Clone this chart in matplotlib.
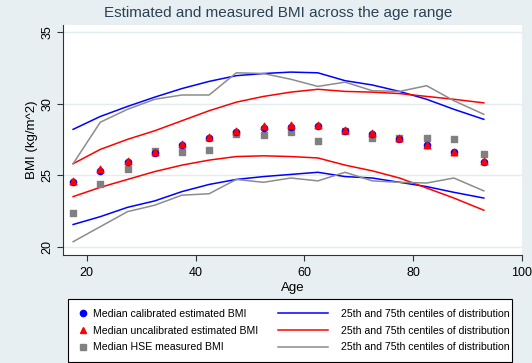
import numpy as np
import matplotlib.pyplot as plt
from matplotlib.lines import Line2D
from matplotlib.patches import Rectangle

plt.rcParams['font.family'] = ['Liberation Sans', 'DejaVu Sans']

# age groups (midpoints)
age = [17.5, 22.5, 27.5, 32.5, 37.5, 42.5, 47.5, 52.5, 57.5, 62.5, 67.5, 72.5, 77.5, 82.5, 87.5, 93]

# medians
med_cal = [24.5, 25.3, 25.95, 26.55, 27.1, 27.6, 28.0, 28.3, 28.35, 28.4, 28.05, 27.85, 27.55, 27.1, 26.6, 25.95]
med_uncal = [24.6, 25.4, 26.0, 26.6, 27.2, 27.7, 28.1, 28.4, 28.5, 28.5, 28.15, 27.95, 27.6, 27.1, 26.65, 26.0]
med_hse = [22.35, 24.4, 25.4, 26.7, 26.6, 26.75, 27.9, 27.8, 28.0, 27.4, 28.05, 27.6, 27.6, 27.6, 27.5, 26.5]

# 25th / 75th centiles
cal_p25 = [21.55, 22.1, 22.75, 23.2, 23.85, 24.35, 24.7, 24.9, 25.05, 25.2, 24.9, 24.8, 24.5, 24.2, 23.8, 23.4]
cal_p75 = [28.2, 29.1, 29.8, 30.45, 31.05, 31.55, 31.95, 32.1, 32.2, 32.15, 31.6, 31.3, 30.85, 30.3, 29.6, 28.9]
uncal_p25 = [23.5, 24.15, 24.7, 25.25, 25.7, 26.05, 26.3, 26.35, 26.3, 26.2, 25.7, 25.3, 24.8, 24.1, 23.4, 22.55]
uncal_p75 = [25.8, 26.8, 27.5, 28.1, 28.8, 29.5, 30.1, 30.5, 30.8, 31.0, 30.85, 30.8, 30.7, 30.5, 30.3, 30.05]
hse_p25 = [20.35, 21.4, 22.45, 22.9, 23.6, 23.7, 24.7, 24.5, 24.8, 24.6, 25.2, 24.6, 24.5, 24.45, 24.8, 23.9]
hse_p75 = [25.8, 28.7, 29.6, 30.3, 30.6, 30.6, 32.15, 32.1, 31.7, 31.2, 31.5, 30.9, 30.85, 31.25, 30.2, 29.25]

BG = '#e8eff2'
GRID = '#e3ecef'

fig = plt.figure(figsize=(5.32, 3.63), dpi=100, facecolor=BG)
ax = fig.add_axes([0.118, 0.2975, 0.863, 0.634])
ax.set_facecolor('white')

ax.plot(age, cal_p75, color='#0000ff', lw=1.1)
ax.plot(age, cal_p25, color='#0000ff', lw=1.1)
ax.plot(age, uncal_p75, color='#ff0000', lw=1.1)
ax.plot(age, uncal_p25, color='#ff0000', lw=1.1)
ax.plot(age, hse_p75, color='#8c8c8c', lw=1.1)
ax.plot(age, hse_p25, color='#8c8c8c', lw=1.1)

ax.scatter(age, med_hse, marker='s', s=20, color='#808080', zorder=3)
ax.scatter(age, med_cal, marker='o', s=20, color='#0000ff', zorder=4)
ax.scatter(age, med_uncal, marker='^', s=22, color='#ff0000', zorder=5)

ax.set_xlim(15.6, 100)
ax.set_ylim(19.42, 35.5)
ax.set_xticks([20, 40, 60, 80, 100])
ax.set_yticks([20, 25, 30, 35])
ax.yaxis.grid(True, color=GRID, lw=1)
ax.set_axisbelow(True)
ax.spines['top'].set_visible(False)
ax.spines['right'].set_visible(False)
for s in ['left', 'bottom']:
    ax.spines[s].set_color('#333333')
    ax.spines[s].set_linewidth(0.8)
ax.tick_params(colors='#333333', labelsize=9, length=4.5, width=0.8, labelcolor='black')
ax.tick_params(axis='y', pad=2)
ax.tick_params(axis='x', pad=4)
for lab in ax.get_yticklabels():
    lab.set_rotation(90)
    lab.set_va('center')

ax.set_xlabel('Age', fontsize=9.5, labelpad=2)
ax.set_ylabel('BMI (kg/m^2)', fontsize=9.5, labelpad=3)
fig.text(0.523, 0.965, 'Estimated and measured BMI across the age range',
         ha='center', va='center', fontsize=11, color='#2a4256')

# legend frame
fig.patches.append(Rectangle((0.128, 0.003), 0.835, 0.172, transform=fig.transFigure,
                             facecolor='white', edgecolor='black', lw=0.8))

h1 = [Line2D([], [], ls='none', marker='o', ms=4.5, color='#0000ff'),
      Line2D([], [], ls='none', marker='^', ms=5, color='#ff0000'),
      Line2D([], [], ls='none', marker='s', ms=4.5, color='#808080')]
l1 = ['Median calibrated estimated BMI', 'Median uncalibrated estimated BMI',
      'Median HSE measured BMI']
h2 = [Line2D([], [], color='#0000ff', lw=1.1),
      Line2D([], [], color='#ff0000', lw=1.1),
      Line2D([], [], color='#8c8c8c', lw=1.1)]
l2 = ['25th and 75th centiles of distribution'] * 3

fig.legend(h1, l1, loc='center left', bbox_to_anchor=(0.13, 0.089), frameon=False,
           fontsize=7.6, handlelength=0.8, handletextpad=0.6, labelspacing=0.62)
fig.legend(h2, l2, loc='center left', bbox_to_anchor=(0.505, 0.089), frameon=False,
           fontsize=7.6, handlelength=4.7, handletextpad=1.3, labelspacing=0.62)

fig.savefig('out.png', dpi=100, facecolor=BG)
